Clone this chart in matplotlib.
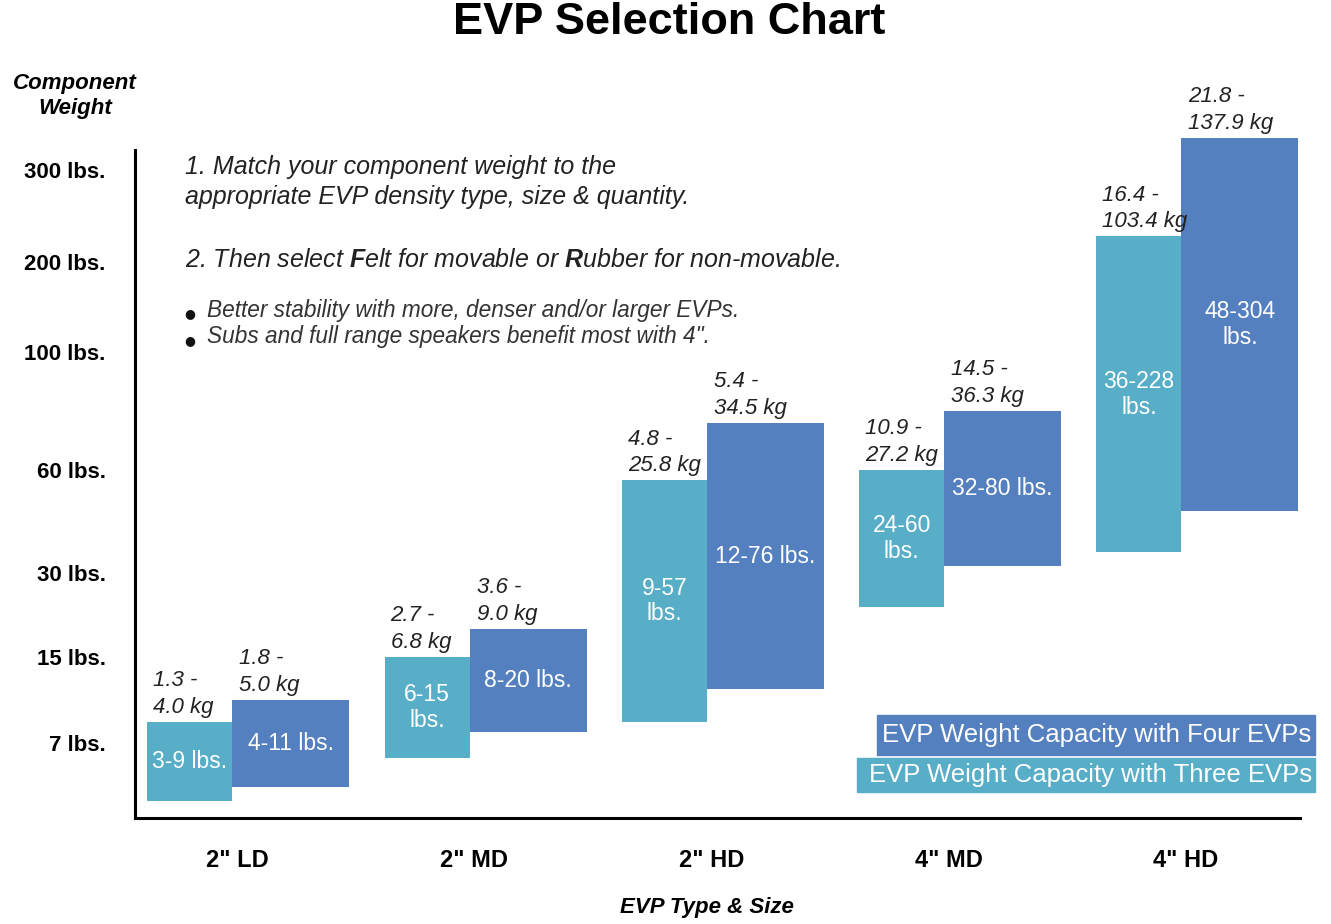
import numpy as np
import matplotlib
matplotlib.use("Agg")
import matplotlib.pyplot as plt
from matplotlib.patches import Rectangle

plt.rcParams['font.family'] = ['Liberation Sans', 'DejaVu Sans']
plt.rcParams['mathtext.fontset'] = 'custom'
plt.rcParams['mathtext.bf'] = 'Liberation Sans:italic:bold'

# data
types = ['2" LD', '2" MD', '2" HD', '4" MD', '4" HD']
three_lo = [3, 6, 9, 24, 36]
three_hi = [9, 15, 57, 60, 228]
four_lo = [4, 8, 12, 32, 48]
four_hi = [11, 20, 76, 80, 304]
three_kg = ['1.3 -\n4.0 kg', '2.7 -\n6.8 kg', '4.8 -\n25.8 kg', '10.9 -\n27.2 kg', '16.4 -\n103.4 kg']
four_kg = ['1.8 -\n5.0 kg', '3.6 -\n9.0 kg', '5.4 -\n34.5 kg', '14.5 -\n36.3 kg', '21.8 -\n137.9 kg']
three_txt = ['3-9 lbs.', '6-15\nlbs.', '9-57\nlbs.', '24-60\nlbs.', '36-228\nlbs.']
four_txt = ['4-11 lbs.', '8-20 lbs.', '12-76 lbs.', '32-80 lbs.', '48-304\nlbs.']
tick_lbs = [7, 15, 30, 60, 100, 200, 300]
tick_txt = ['7 lbs.', '15 lbs.', '30 lbs.', '60 lbs.', '100 lbs.', '200 lbs.', '300 lbs.']

LIGHT = '#58adc7'
DARK = '#5580bf'
W, H = 1331, 924

# the chart's hand-drawn weight axis: lbs -> height in px
scale_lbs = [0, 3, 7, 15, 30, 60, 100, 200, 300, 304, 400]
scale_pos = [H - p for p in [818, 801, 743, 657, 573, 470, 352, 262, 170, 138, 40]]

def fwd(v):
    return np.interp(v, scale_lbs, scale_pos)

def inv(p):
    return np.interp(p, scale_pos, scale_lbs)

fig = plt.figure(figsize=(W / 100, H / 100), dpi=100)
ax = fig.add_axes([135 / W, 1 - 818 / H, 1165 / W, 778 / H])
ax.set_yscale('function', functions=(fwd, inv))
ax.set_ylim(0, 400)
ax.set_xlim(-0.41, 4.5)

x = np.arange(len(types))
w3 = -0.358
w4 = 0.493
three_h = np.array(three_hi) - np.array(three_lo)
four_h = np.array(four_hi) - np.array(four_lo)
ax.bar(x, three_h, bottom=three_lo, width=w3, align='edge', color=LIGHT)
ax.bar(x, four_h, bottom=four_lo, width=w4, align='edge', color=DARK)

for i in range(len(types)):
    m3 = inv((fwd(three_lo[i]) + fwd(three_hi[i])) / 2)
    m4 = inv((fwd(four_lo[i]) + fwd(four_hi[i])) / 2)
    ax.text(x[i] + w3 / 2, m3, three_txt[i], ha='center', va='center',
            color='white', fontsize=16.5, linespacing=1.15)
    ax.text(x[i] + w4 / 2, m4, four_txt[i], ha='center', va='center',
            color='white', fontsize=16.5, linespacing=1.15)
    ax.annotate(three_kg[i], xy=(x[i] + w3, three_hi[i]), xytext=(6, 4),
                textcoords='offset pixels', ha='left', va='bottom',
                style='italic', fontsize=16, color='#222222', linespacing=1.35,
                annotation_clip=False)
    ax.annotate(four_kg[i], xy=(x[i], four_hi[i]), xytext=(7, 4),
                textcoords='offset pixels', ha='left', va='bottom',
                style='italic', fontsize=16, color='#222222', linespacing=1.35,
                annotation_clip=False)

for s in ['top', 'right']:
    ax.spines[s].set_visible(False)
ax.spines['left'].set_linewidth(2.2)
ax.spines['bottom'].set_linewidth(2.2)
ax.spines['left'].set_bounds(0, inv(H - 150))

ax.set_yticks(tick_lbs)
ax.set_yticklabels(tick_txt, fontsize=16, fontweight='bold')
ax.yaxis.set_minor_locator(matplotlib.ticker.NullLocator())
ax.tick_params(axis='y', length=0, pad=21)
ax.set_xticks(x + 0.02)
ax.set_xticklabels(types, fontsize=17, fontweight='bold')
ax.tick_params(axis='x', length=0, pad=22)

fig.text(0.503, 1 - 23 / H, 'EVP Selection Chart', ha='center', va='center',
         fontsize=32.5, fontweight='bold')
fig.text(75 / W, 1 - 96 / H, 'Component\nWeight', ha='center', va='center',
         fontsize=16, fontweight='bold', style='italic', linespacing=1.3)
fig.text(707 / W, 1 - 907 / H, 'EVP Type & Size', ha='center', va='center',
         fontsize=16, fontweight='bold', style='italic')

fig.text(185 / W, 1 - 182 / H,
         '1. Match your component weight to the\nappropriate EVP density type, size & quantity.',
         ha='left', va='center', fontsize=18, style='italic', color='#222222',
         linespacing=1.35)
fig.text(185 / W, 1 - 260 / H,
         r'2. Then select $\mathbf{F}$elt for movable or $\mathbf{R}$ubber for non-movable.',
         ha='left', va='center', fontsize=18, style='italic', color='#222222')
bullets = ['Better stability with more, denser and/or larger EVPs.',
           'Subs and full range speakers benefit most with 4".']
for k, b in enumerate(bullets):
    yy = 1 - (310 + 27 * k) / H
    fig.text(190 / W, yy - 4 / H, '\u25cf', ha='center', va='center',
             fontsize=9, family='DejaVu Sans', color='#111111')
    fig.text(207 / W, yy, b, ha='left', va='center', fontsize=16.3,
             style='italic', color='#333333')

# legend boxes
fig.patches.append(Rectangle((877 / W, 1 - 755 / H), 438 / W, 40 / H,
                             transform=fig.transFigure, color=DARK))
fig.patches.append(Rectangle((857 / W, 1 - 792 / H), 458 / W, 34 / H,
                             transform=fig.transFigure, color=LIGHT))
fig.text(1311 / W, 1 - 735 / H, 'EVP Weight Capacity with Four EVPs',
         ha='right', va='center', color='white', fontsize=18.5)
fig.text(1312 / W, 1 - 775 / H, 'EVP Weight Capacity with Three EVPs',
         ha='right', va='center', color='white', fontsize=18.5)

fig.savefig('out.png', dpi=100)
